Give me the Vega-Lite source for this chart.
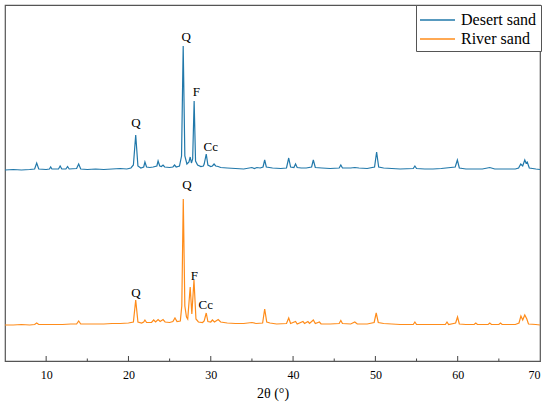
{
  "$schema": "https://vega.github.io/schema/vega-lite/v6.json",
  "width": 535,
  "height": 356,
  "autosize": {"type": "none"},
  "padding": {"left": 5, "top": 5, "right": 10, "bottom": 41},
  "background": "white",
  "config": {
    "view": {"stroke": "#555", "strokeWidth": 1.2},
    "font": "Liberation Serif",
    "axis": {"labelFont": "Liberation Serif", "titleFont": "Liberation Serif"},
    "text": {"font": "Liberation Serif"}
  },
  "datasets": {
    "spectra": [
      {"s": "Desert sand", "x": 5.0, "y": 191},
      {"s": "Desert sand", "x": 6.0, "y": 191.5},
      {"s": "Desert sand", "x": 7.0, "y": 191},
      {"s": "Desert sand", "x": 8.0, "y": 191.5},
      {"s": "Desert sand", "x": 8.6, "y": 192},
      {"s": "Desert sand", "x": 8.85, "y": 198},
      {"s": "Desert sand", "x": 9.1, "y": 192},
      {"s": "Desert sand", "x": 10.0, "y": 191.5},
      {"s": "Desert sand", "x": 10.4, "y": 192},
      {"s": "Desert sand", "x": 10.55, "y": 194},
      {"s": "Desert sand", "x": 10.7, "y": 192},
      {"s": "Desert sand", "x": 11.5, "y": 192},
      {"s": "Desert sand", "x": 11.7, "y": 195},
      {"s": "Desert sand", "x": 11.9, "y": 192},
      {"s": "Desert sand", "x": 12.4, "y": 192},
      {"s": "Desert sand", "x": 12.6, "y": 194.5},
      {"s": "Desert sand", "x": 12.8, "y": 192},
      {"s": "Desert sand", "x": 13.7, "y": 192.5},
      {"s": "Desert sand", "x": 13.95, "y": 197},
      {"s": "Desert sand", "x": 14.2, "y": 192},
      {"s": "Desert sand", "x": 15.0, "y": 191.5},
      {"s": "Desert sand", "x": 16.0, "y": 192},
      {"s": "Desert sand", "x": 17.0, "y": 191.5},
      {"s": "Desert sand", "x": 18.0, "y": 192},
      {"s": "Desert sand", "x": 19.0, "y": 192.5},
      {"s": "Desert sand", "x": 19.8, "y": 192},
      {"s": "Desert sand", "x": 20.3, "y": 193},
      {"s": "Desert sand", "x": 20.6, "y": 196},
      {"s": "Desert sand", "x": 20.88, "y": 226},
      {"s": "Desert sand", "x": 21.15, "y": 195},
      {"s": "Desert sand", "x": 21.5, "y": 193},
      {"s": "Desert sand", "x": 21.85, "y": 194},
      {"s": "Desert sand", "x": 22.0, "y": 199},
      {"s": "Desert sand", "x": 22.2, "y": 194},
      {"s": "Desert sand", "x": 22.6, "y": 193.5},
      {"s": "Desert sand", "x": 23.0, "y": 194},
      {"s": "Desert sand", "x": 23.45, "y": 195},
      {"s": "Desert sand", "x": 23.6, "y": 200},
      {"s": "Desert sand", "x": 23.8, "y": 195},
      {"s": "Desert sand", "x": 24.0, "y": 194.5},
      {"s": "Desert sand", "x": 24.2, "y": 196},
      {"s": "Desert sand", "x": 24.4, "y": 194},
      {"s": "Desert sand", "x": 25.0, "y": 193.5},
      {"s": "Desert sand", "x": 25.4, "y": 194},
      {"s": "Desert sand", "x": 25.6, "y": 196},
      {"s": "Desert sand", "x": 25.8, "y": 194},
      {"s": "Desert sand", "x": 26.2, "y": 195},
      {"s": "Desert sand", "x": 26.45, "y": 205},
      {"s": "Desert sand", "x": 26.65, "y": 315},
      {"s": "Desert sand", "x": 26.85, "y": 205},
      {"s": "Desert sand", "x": 27.1, "y": 197},
      {"s": "Desert sand", "x": 27.35, "y": 199},
      {"s": "Desert sand", "x": 27.5, "y": 204},
      {"s": "Desert sand", "x": 27.65, "y": 198},
      {"s": "Desert sand", "x": 27.8, "y": 202},
      {"s": "Desert sand", "x": 27.98, "y": 260},
      {"s": "Desert sand", "x": 28.15, "y": 200},
      {"s": "Desert sand", "x": 28.4, "y": 196},
      {"s": "Desert sand", "x": 28.8, "y": 194.5},
      {"s": "Desert sand", "x": 29.1, "y": 195},
      {"s": "Desert sand", "x": 29.2, "y": 197},
      {"s": "Desert sand", "x": 29.45, "y": 207},
      {"s": "Desert sand", "x": 29.65, "y": 196},
      {"s": "Desert sand", "x": 30.0, "y": 194.5},
      {"s": "Desert sand", "x": 30.2, "y": 195},
      {"s": "Desert sand", "x": 30.4, "y": 197},
      {"s": "Desert sand", "x": 30.6, "y": 195},
      {"s": "Desert sand", "x": 30.9, "y": 194.5},
      {"s": "Desert sand", "x": 31.2, "y": 193.5},
      {"s": "Desert sand", "x": 32.0, "y": 193},
      {"s": "Desert sand", "x": 33.0, "y": 192.5},
      {"s": "Desert sand", "x": 34.0, "y": 192},
      {"s": "Desert sand", "x": 35.0, "y": 193.5},
      {"s": "Desert sand", "x": 35.3, "y": 192.5},
      {"s": "Desert sand", "x": 35.6, "y": 193.5},
      {"s": "Desert sand", "x": 36.0, "y": 193},
      {"s": "Desert sand", "x": 36.35, "y": 194},
      {"s": "Desert sand", "x": 36.55, "y": 201},
      {"s": "Desert sand", "x": 36.75, "y": 194},
      {"s": "Desert sand", "x": 37.5, "y": 193},
      {"s": "Desert sand", "x": 38.5, "y": 192.5},
      {"s": "Desert sand", "x": 39.2, "y": 193},
      {"s": "Desert sand", "x": 39.47, "y": 203},
      {"s": "Desert sand", "x": 39.7, "y": 194},
      {"s": "Desert sand", "x": 40.1, "y": 193.5},
      {"s": "Desert sand", "x": 40.3, "y": 197},
      {"s": "Desert sand", "x": 40.5, "y": 193.5},
      {"s": "Desert sand", "x": 41.0, "y": 193},
      {"s": "Desert sand", "x": 41.6, "y": 193},
      {"s": "Desert sand", "x": 42.25, "y": 194},
      {"s": "Desert sand", "x": 42.46, "y": 201},
      {"s": "Desert sand", "x": 42.7, "y": 193.5},
      {"s": "Desert sand", "x": 43.5, "y": 193},
      {"s": "Desert sand", "x": 44.5, "y": 192.5},
      {"s": "Desert sand", "x": 45.6, "y": 193},
      {"s": "Desert sand", "x": 45.8, "y": 196},
      {"s": "Desert sand", "x": 46.0, "y": 193},
      {"s": "Desert sand", "x": 47.0, "y": 193},
      {"s": "Desert sand", "x": 47.5, "y": 193.5},
      {"s": "Desert sand", "x": 48.0, "y": 193},
      {"s": "Desert sand", "x": 49.0, "y": 192.5},
      {"s": "Desert sand", "x": 49.9, "y": 194},
      {"s": "Desert sand", "x": 50.15, "y": 209},
      {"s": "Desert sand", "x": 50.4, "y": 194},
      {"s": "Desert sand", "x": 51.0, "y": 193},
      {"s": "Desert sand", "x": 52.0, "y": 192.5},
      {"s": "Desert sand", "x": 53.0, "y": 192},
      {"s": "Desert sand", "x": 54.6, "y": 192.5},
      {"s": "Desert sand", "x": 54.8, "y": 195},
      {"s": "Desert sand", "x": 55.0, "y": 192.5},
      {"s": "Desert sand", "x": 56.0, "y": 192},
      {"s": "Desert sand", "x": 57.0, "y": 192},
      {"s": "Desert sand", "x": 58.0, "y": 192.5},
      {"s": "Desert sand", "x": 59.7, "y": 194},
      {"s": "Desert sand", "x": 59.96, "y": 201},
      {"s": "Desert sand", "x": 60.2, "y": 193},
      {"s": "Desert sand", "x": 61.0, "y": 192},
      {"s": "Desert sand", "x": 62.0, "y": 192},
      {"s": "Desert sand", "x": 63.0, "y": 192},
      {"s": "Desert sand", "x": 63.9, "y": 193.5},
      {"s": "Desert sand", "x": 64.5, "y": 192},
      {"s": "Desert sand", "x": 66.0, "y": 192},
      {"s": "Desert sand", "x": 67.0, "y": 192},
      {"s": "Desert sand", "x": 67.4, "y": 193},
      {"s": "Desert sand", "x": 67.66, "y": 197},
      {"s": "Desert sand", "x": 67.9, "y": 195},
      {"s": "Desert sand", "x": 68.15, "y": 201},
      {"s": "Desert sand", "x": 68.3, "y": 198},
      {"s": "Desert sand", "x": 68.45, "y": 199},
      {"s": "Desert sand", "x": 68.7, "y": 193},
      {"s": "Desert sand", "x": 69.5, "y": 192},
      {"s": "Desert sand", "x": 70.0, "y": 191.5},
      {"s": "River sand", "x": 5.0, "y": 36},
      {"s": "River sand", "x": 6.0, "y": 36},
      {"s": "River sand", "x": 7.0, "y": 36.5},
      {"s": "River sand", "x": 8.0, "y": 36},
      {"s": "River sand", "x": 8.6, "y": 36.5},
      {"s": "River sand", "x": 8.85, "y": 38},
      {"s": "River sand", "x": 9.1, "y": 36.5},
      {"s": "River sand", "x": 10.0, "y": 36.5},
      {"s": "River sand", "x": 11.0, "y": 36.5},
      {"s": "River sand", "x": 12.0, "y": 36.5},
      {"s": "River sand", "x": 13.0, "y": 37},
      {"s": "River sand", "x": 13.7, "y": 37},
      {"s": "River sand", "x": 13.95, "y": 40},
      {"s": "River sand", "x": 14.2, "y": 37},
      {"s": "River sand", "x": 15.0, "y": 37},
      {"s": "River sand", "x": 16.0, "y": 37},
      {"s": "River sand", "x": 17.0, "y": 37},
      {"s": "River sand", "x": 18.0, "y": 37.5},
      {"s": "River sand", "x": 19.0, "y": 37.5},
      {"s": "River sand", "x": 20.0, "y": 38},
      {"s": "River sand", "x": 20.6, "y": 39},
      {"s": "River sand", "x": 20.88, "y": 61},
      {"s": "River sand", "x": 21.15, "y": 39},
      {"s": "River sand", "x": 21.6, "y": 38},
      {"s": "River sand", "x": 21.85, "y": 39},
      {"s": "River sand", "x": 22.0, "y": 41},
      {"s": "River sand", "x": 22.2, "y": 38.5},
      {"s": "River sand", "x": 22.8, "y": 38.5},
      {"s": "River sand", "x": 23.06, "y": 41},
      {"s": "River sand", "x": 23.3, "y": 39},
      {"s": "River sand", "x": 23.6, "y": 41.5},
      {"s": "River sand", "x": 23.85, "y": 39.5},
      {"s": "River sand", "x": 24.2, "y": 41.5},
      {"s": "River sand", "x": 24.45, "y": 39},
      {"s": "River sand", "x": 25.0, "y": 38.5},
      {"s": "River sand", "x": 25.4, "y": 39.5},
      {"s": "River sand", "x": 25.65, "y": 43},
      {"s": "River sand", "x": 25.9, "y": 39.5},
      {"s": "River sand", "x": 26.3, "y": 40},
      {"s": "River sand", "x": 26.48, "y": 55},
      {"s": "River sand", "x": 26.66, "y": 162},
      {"s": "River sand", "x": 26.85, "y": 55},
      {"s": "River sand", "x": 27.05, "y": 44},
      {"s": "River sand", "x": 27.2, "y": 42},
      {"s": "River sand", "x": 27.5, "y": 74},
      {"s": "River sand", "x": 27.7, "y": 47},
      {"s": "River sand", "x": 27.96, "y": 81},
      {"s": "River sand", "x": 28.2, "y": 42},
      {"s": "River sand", "x": 28.5, "y": 39},
      {"s": "River sand", "x": 29.0, "y": 38.5},
      {"s": "River sand", "x": 29.2, "y": 40},
      {"s": "River sand", "x": 29.45, "y": 48},
      {"s": "River sand", "x": 29.65, "y": 39.5},
      {"s": "River sand", "x": 30.0, "y": 39},
      {"s": "River sand", "x": 30.2, "y": 41},
      {"s": "River sand", "x": 30.45, "y": 39},
      {"s": "River sand", "x": 30.9, "y": 41.5},
      {"s": "River sand", "x": 31.2, "y": 39},
      {"s": "River sand", "x": 32.0, "y": 38},
      {"s": "River sand", "x": 33.0, "y": 37.5},
      {"s": "River sand", "x": 34.0, "y": 37.5},
      {"s": "River sand", "x": 35.0, "y": 38.5},
      {"s": "River sand", "x": 35.5, "y": 37.5},
      {"s": "River sand", "x": 36.3, "y": 38},
      {"s": "River sand", "x": 36.55, "y": 52},
      {"s": "River sand", "x": 36.8, "y": 39},
      {"s": "River sand", "x": 37.2, "y": 38},
      {"s": "River sand", "x": 38.0, "y": 37},
      {"s": "River sand", "x": 39.2, "y": 37.5},
      {"s": "River sand", "x": 39.47, "y": 43},
      {"s": "River sand", "x": 39.7, "y": 37.5},
      {"s": "River sand", "x": 40.3, "y": 39.5},
      {"s": "River sand", "x": 40.5, "y": 37},
      {"s": "River sand", "x": 41.2, "y": 39.5},
      {"s": "River sand", "x": 41.4, "y": 37.5},
      {"s": "River sand", "x": 41.8, "y": 39.5},
      {"s": "River sand", "x": 42.0, "y": 37.5},
      {"s": "River sand", "x": 42.46, "y": 41},
      {"s": "River sand", "x": 42.7, "y": 37.5},
      {"s": "River sand", "x": 43.2, "y": 39},
      {"s": "River sand", "x": 43.4, "y": 37},
      {"s": "River sand", "x": 44.5, "y": 37},
      {"s": "River sand", "x": 45.6, "y": 37.5},
      {"s": "River sand", "x": 45.8, "y": 40.5},
      {"s": "River sand", "x": 46.0, "y": 37.5},
      {"s": "River sand", "x": 47.0, "y": 37},
      {"s": "River sand", "x": 47.5, "y": 39},
      {"s": "River sand", "x": 47.8, "y": 37},
      {"s": "River sand", "x": 49.0, "y": 37},
      {"s": "River sand", "x": 49.85, "y": 38.5},
      {"s": "River sand", "x": 50.1, "y": 48},
      {"s": "River sand", "x": 50.35, "y": 38.5},
      {"s": "River sand", "x": 51.0, "y": 37.5},
      {"s": "River sand", "x": 52.0, "y": 37},
      {"s": "River sand", "x": 53.0, "y": 36.5},
      {"s": "River sand", "x": 54.6, "y": 36.5},
      {"s": "River sand", "x": 54.8, "y": 39},
      {"s": "River sand", "x": 55.0, "y": 36.5},
      {"s": "River sand", "x": 56.0, "y": 36.5},
      {"s": "River sand", "x": 57.0, "y": 36.5},
      {"s": "River sand", "x": 58.5, "y": 36.5},
      {"s": "River sand", "x": 58.7, "y": 39},
      {"s": "River sand", "x": 58.9, "y": 36.5},
      {"s": "River sand", "x": 59.75, "y": 38},
      {"s": "River sand", "x": 59.98, "y": 44},
      {"s": "River sand", "x": 60.2, "y": 37},
      {"s": "River sand", "x": 61.0, "y": 36.5},
      {"s": "River sand", "x": 62.0, "y": 36.5},
      {"s": "River sand", "x": 62.2, "y": 38},
      {"s": "River sand", "x": 62.4, "y": 36.5},
      {"s": "River sand", "x": 63.7, "y": 36.5},
      {"s": "River sand", "x": 63.9, "y": 38},
      {"s": "River sand", "x": 64.1, "y": 36.5},
      {"s": "River sand", "x": 65.0, "y": 36.5},
      {"s": "River sand", "x": 65.2, "y": 38},
      {"s": "River sand", "x": 65.4, "y": 36.5},
      {"s": "River sand", "x": 67.0, "y": 36.5},
      {"s": "River sand", "x": 67.45, "y": 38},
      {"s": "River sand", "x": 67.68, "y": 45},
      {"s": "River sand", "x": 67.9, "y": 41},
      {"s": "River sand", "x": 68.15, "y": 46},
      {"s": "River sand", "x": 68.4, "y": 42},
      {"s": "River sand", "x": 68.6, "y": 37},
      {"s": "River sand", "x": 69.5, "y": 36.5},
      {"s": "River sand", "x": 70.0, "y": 36}
    ],
    "labels": [
      {"x": 20.9, "y": 238, "t": "Q"},
      {"x": 27.0, "y": 324, "t": "Q"},
      {"x": 28.25, "y": 269, "t": "F"},
      {"x": 30.0, "y": 214, "t": "Cc"},
      {"x": 20.9, "y": 68, "t": "Q"},
      {"x": 27.1, "y": 176, "t": "Q"},
      {"x": 28.0, "y": 85, "t": "F"},
      {"x": 29.4, "y": 56, "t": "Cc"}
    ],
    "majorTicks": [
      {"x": 10}, {"x": 20}, {"x": 30}, {"x": 40}, {"x": 50}, {"x": 60}
    ],
    "minorTicks": [
      {"x": 15}, {"x": 25}, {"x": 35}, {"x": 45}, {"x": 55}, {"x": 65}
    ]
  },
  "layer": [
    {
      "data": {"name": "spectra"},
      "mark": {"type": "line", "strokeWidth": 1.2, "clip": true},
      "encoding": {
        "x": {
          "field": "x",
          "type": "quantitative",
          "scale": {"domain": [5, 70], "nice": false, "zero": false},
          "axis": {
            "title": "2θ (°)",
            "values": [10, 20, 30, 40, 50, 60, 70],
            "ticks": false,
            "domainColor": "#555",
            "labelFont": "Liberation Serif",
            "labelFontSize": 12,
            "labelColor": "black",
            "labelPadding": 8,
            "titleFont": "Liberation Serif",
            "titleFontSize": 14,
            "titleFontWeight": "normal",
            "titleColor": "black",
            "titlePadding": 6,
            "grid": false
          }
        },
        "y": {
          "field": "y",
          "type": "quantitative",
          "scale": {"domain": [0, 356], "nice": false, "zero": false},
          "axis": null
        },
        "color": {
          "field": "s",
          "type": "nominal",
          "scale": {"domain": ["Desert sand", "River sand"], "range": ["#2178aa", "#ff8c1a"]},
          "legend": {
            "title": null,
            "orient": "none",
            "legendX": 411,
            "legendY": 0,
            "symbolType": "M-1.75,0H1.75",
            "symbolSize": 400,
            "symbolOffset": 6.5,
            "symbolStrokeWidth": 1.3,
            "labelOffset": 12.5,
            "labelFont": "Liberation Serif",
            "labelFontSize": 16,
            "labelColor": "black",
            "padding": 4,
            "rowPadding": 0,
            "strokeColor": "#555",
            "fillColor": "white"
          }
        }
      }
    },
    {
      "data": {"name": "majorTicks"},
      "mark": {"type": "rule", "strokeWidth": 1, "color": "#444"},
      "encoding": {
        "x": {"field": "x", "type": "quantitative"},
        "y": {"datum": 0},
        "y2": {"datum": 5}
      }
    },
    {
      "data": {"name": "minorTicks"},
      "mark": {"type": "rule", "strokeWidth": 1, "color": "#444"},
      "encoding": {
        "x": {"field": "x", "type": "quantitative"},
        "y": {"datum": 0},
        "y2": {"datum": 2.5}
      }
    },
    {
      "data": {"name": "labels"},
      "mark": {"type": "text", "font": "Liberation Serif", "fontSize": 13, "color": "black", "baseline": "middle", "align": "center"},
      "encoding": {
        "x": {"field": "x", "type": "quantitative"},
        "y": {"field": "y", "type": "quantitative"},
        "text": {"field": "t"}
      }
    }
  ]
}
